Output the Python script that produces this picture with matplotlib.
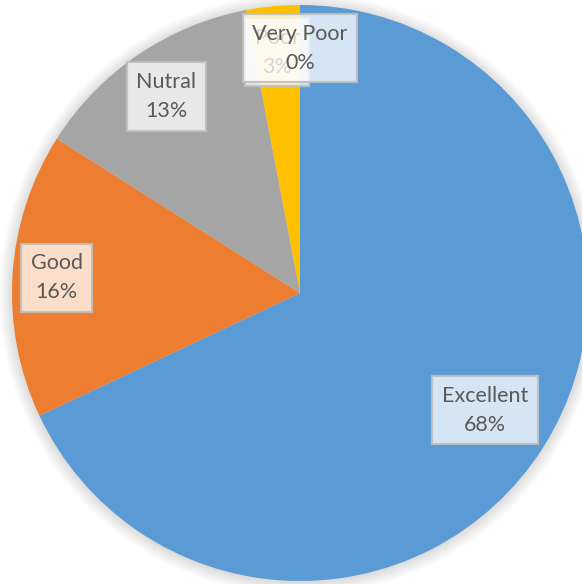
import numpy as np
import matplotlib
matplotlib.use("Agg")
import matplotlib.pyplot as plt

# survey ratings, clockwise from 12 o'clock
categories = ["Excellent", "Good", "Nutral", "Poor", "Very Poor"]
shares = [68, 16, 13, 3, 0]
colors = ["#5B9BD5", "#ED7D31", "#A5A5A5", "#FFC000", "#4472C4"]
label_radius = [0.76, 0.847, 0.825, 0.84, 0.85]

plt.rcParams["font.family"] = ["Lato", "DejaVu Sans"]

W, H = 582, 584
fig = plt.figure(figsize=(W / 100, H / 100), dpi=100)
ax = fig.add_axes([0, 0, 1, 1])

# pie center / radius in pixels
cx, cy, r = 300, 293, 288

# soft shadow round the pie
for k in range(12):
    ax.add_patch(plt.Circle((0, -0.004), 1.0 + 0.004 * k, color="black",
                            alpha=0.012, lw=0, zorder=0))

wedges, _ = ax.pie(shares, colors=colors, startangle=90, counterclock=False,
                   radius=1.0, wedgeprops=dict(linewidth=0))
for w in wedges:
    w.set_zorder(1)

for w, name, val, lr in zip(wedges, categories, shares, label_radius):
    mid = np.deg2rad((w.theta1 + w.theta2) / 2)
    x, y = lr * np.cos(mid), lr * np.sin(mid)
    ax.text(x, y, f"{name}\n{val}%", ha="center", va="center",
            fontsize=15.5, color="#595959", linespacing=1.55, zorder=3,
            bbox=dict(boxstyle="square,pad=0.45", facecolor=(1, 1, 1, 0.75),
                      edgecolor=(0.75, 0.75, 0.75, 0.9), linewidth=1.6))

ax.set_xlim(-cx / r, (W - cx) / r)
ax.set_ylim(-(H - cy) / r, cy / r)
ax.set_aspect("auto")
ax.axis("off")

fig.savefig("out.png", dpi=100)
